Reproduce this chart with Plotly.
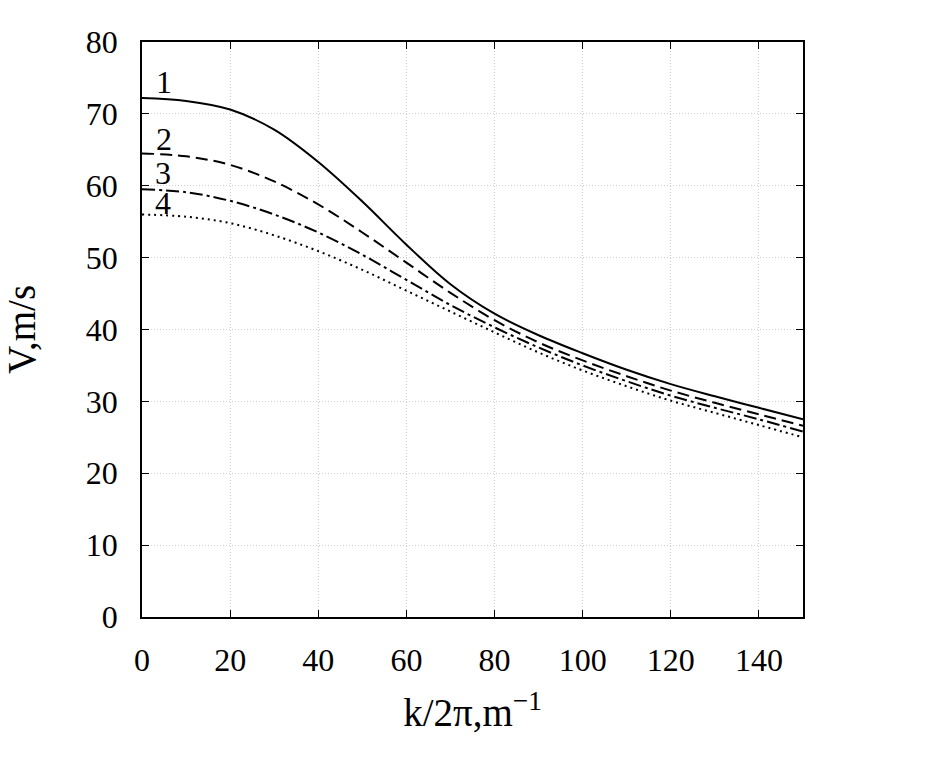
import plotly.graph_objects as go

k = [0, 10, 20, 30, 40, 50, 60, 70, 80, 90, 100, 110, 120, 130, 140, 150]
v1 = [72.2, 71.8, 70.6, 67.8, 63.3, 57.8, 51.8, 46.3, 42.2, 39.2, 36.7, 34.4, 32.4, 30.7, 29.1, 27.5]
v2 = [64.5, 64.1, 62.9, 60.6, 57.4, 53.5, 49.3, 45.1, 41.3, 38.2, 35.7, 33.5, 31.5, 29.8, 28.2, 26.6]
v3 = [59.5, 59.1, 57.9, 56.0, 53.5, 50.4, 46.9, 43.4, 40.3, 37.5, 35.0, 32.8, 30.8, 29.1, 27.5, 25.8]
v4 = [56.0, 55.7, 54.8, 53.1, 50.9, 48.3, 45.4, 42.5, 39.6, 36.8, 34.3, 32.1, 30.1, 28.4, 26.7, 25.0]
labels = ["1", "2", "3", "4"]
label_x = [4.9, 4.9, 4.7, 4.7]
label_y = [74.4, 66.5, 61.8, 57.6]

series = [v1, v2, v3, v4]
dashes = ["solid", "12px,6px", "13px,4px,3px,4px", "2px,4px"]

FAM = "Liberation Serif, Times New Roman, serif"

fig = go.Figure()
for vals, d in zip(series, dashes):
    fig.add_trace(go.Scatter(x=k, y=vals, mode="lines",
                             line=dict(color="black", width=2, dash=d, shape="spline", smoothing=1.0),
                             showlegend=False))

for t, lx, ly in zip(labels, label_x, label_y):
    fig.add_annotation(x=lx, y=ly, text=t, showarrow=False,
                       font=dict(family=FAM, size=32, color="black"))

font = dict(family=FAM, size=32, color="black")
axis_common = dict(showline=True, linecolor="black", linewidth=1.5, mirror="ticks", ticks="inside", ticklen=7,
                   tickcolor="black", showgrid=True, gridcolor="#cfcfcf", griddash="1px,2px", gridwidth=1,
                   zeroline=False, tickfont=font)
fig.update_xaxes(range=[0, 150], tickvals=[0, 20, 40, 60, 80, 100, 120, 140], ticklabelstandoff=14,
                 title=dict(text="k/2π,m<sup>−1</sup>", font=dict(family=FAM, size=39, color="black"), standoff=22),
                 **axis_common)
fig.update_yaxes(range=[0, 80], tickvals=[0, 10, 20, 30, 40, 50, 60, 70, 80], ticklabelstandoff=16,
                 title=dict(text="V,m/s", font=dict(family=FAM, size=39, color="black"), standoff=40),
                 **axis_common)
fig.update_layout(width=944, height=767, margin=dict(l=142, r=141, t=42, b=150),
                  font=dict(family=FAM, color="black"),
                  plot_bgcolor="white", paper_bgcolor="white")
fig.write_html("out.html")
